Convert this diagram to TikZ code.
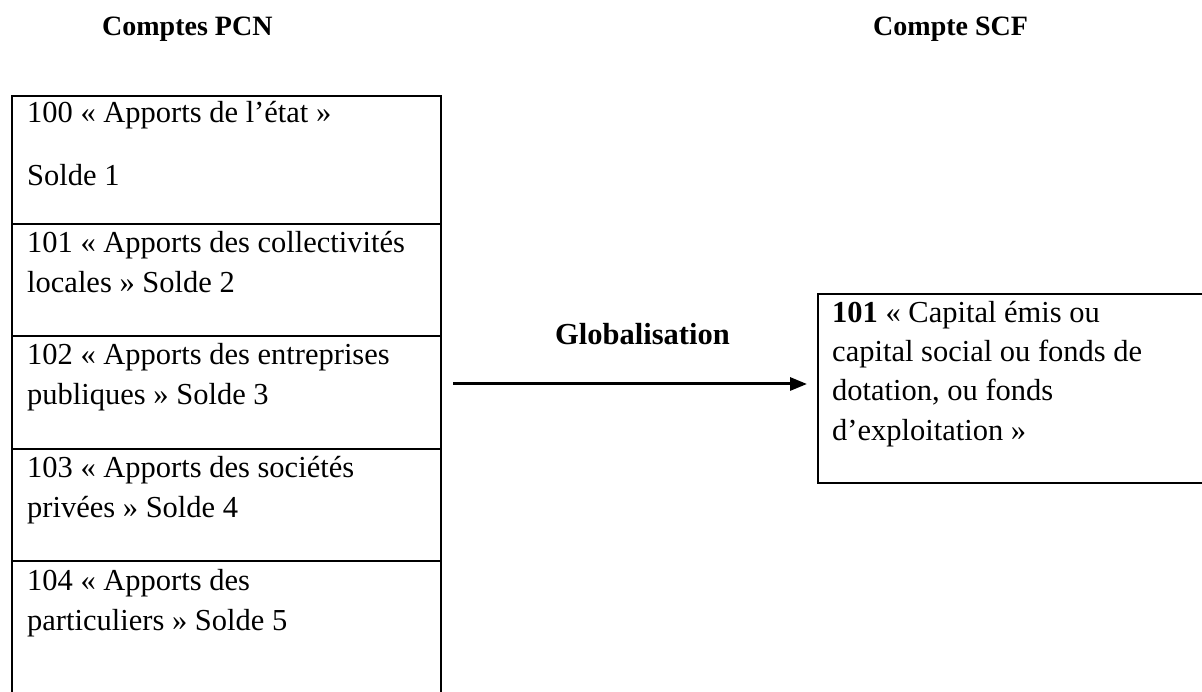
\documentclass[tikz,border=0pt]{standalone}
\usepackage{fontspec}
\setmainfont{Liberation Serif}
\usetikzlibrary{arrows.meta}
\begin{document}
\begin{tikzpicture}[x=1pt,y=-1pt,
  cell/.style={draw, line width=2pt, inner sep=0pt, anchor=north west, minimum width=429pt},
  txt/.style={anchor=base west, inner sep=0pt, font=\fontsize{30.5}{40}\selectfont},
  head/.style={anchor=base west, inner sep=0pt, font=\fontsize{28}{34}\selectfont\bfseries},
  flow/.style={-{Triangle[length=17pt,width=13pt]}, line width=3pt},
]
\useasboundingbox (0,0) rectangle (1202,692);
\clip (0,0) rectangle (1202,692);
% headers
\node[head] (hl) at (102,36) {Comptes PCN};
\node[head] (hr) at (873,36) {Compte SCF};
% left column boxes
\node[cell, minimum height=128pt] (b1) at (11,95) {};
\node[cell, minimum height=112pt] (b2) at (11,223) {};
\node[cell, minimum height=113pt] (b3) at (11,335) {};
\node[cell, minimum height=112pt] (b4) at (11,448) {};
\node[cell, minimum height=170pt] (b5) at (11,560) {};
% left texts
\node[txt] (t1a) at (27,123) {100 « Apports de l’état »};
\node[txt] (t1b) at (27,186) {Solde 1};
\node[txt] (t2a) at (27,253) {101 « Apports des collectivités};
\node[txt] (t2b) at (27,293) {locales » Solde 2};
\node[txt] (t3a) at (27,365) {102 « Apports des entreprises};
\node[txt] (t3b) at (27,404) {publiques » Solde 3};
\node[txt] (t4a) at (27,477) {103 « Apports des sociétés};
\node[txt] (t4b) at (27,517) {privées » Solde 4};
\node[txt] (t5a) at (27,590) {104 « Apports des};
\node[txt] (t5b) at (27,630) {particuliers » Solde 5};
% right box
\node[cell, minimum width=420pt, minimum height=189pt] (rb) at (817,293) {};
\node[txt] (r1) at (832,323) {\textbf{101} « Capital émis ou};
\node[txt] (r2) at (832,362) {capital social ou fonds de};
\node[txt] (r3) at (832,401) {dotation, ou fonds};
\node[txt] (r4) at (832,440) {d’exploitation »};
% arrow
\node[anchor=base west, inner sep=0pt, font=\fontsize{30.5}{40}\selectfont\bfseries] (gl) at (555,345) {Globalisation};
\coordinate (as) at (453,384);
\coordinate (ae) at (807,384);
\draw[flow] (as) -- (ae);
\end{tikzpicture}
\end{document}
